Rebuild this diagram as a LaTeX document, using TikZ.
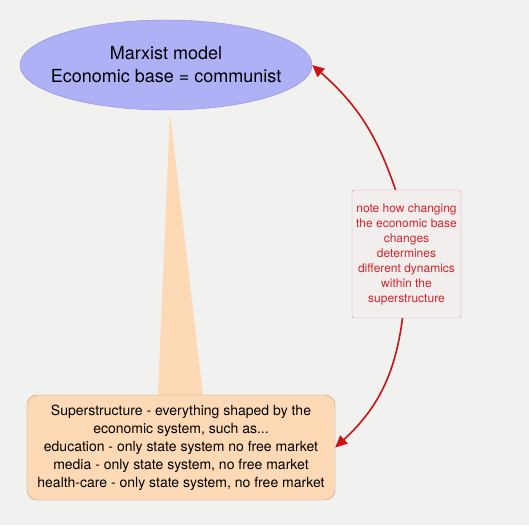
\documentclass[tikz,border=0pt]{standalone}
\usepackage{fontspec}
\setmainfont{TeX Gyre Heros}
\usetikzlibrary{arrows.meta,shapes.geometric,backgrounds}

\definecolor{paper}{HTML}{F1F1F0}
\definecolor{basefill}{HTML}{AFB1F7}
\definecolor{basedraw}{HTML}{8C8ED2}
\definecolor{peach}{HTML}{FDD9B6}
\definecolor{peachdraw}{HTML}{B39C8A}
\definecolor{notefill}{HTML}{F2EEEE}
\definecolor{notedraw}{HTML}{DA9A9A}
\definecolor{notered}{HTML}{D0262A}
\definecolor{arrowred}{HTML}{CC1414}

\begin{document}
\begin{tikzpicture}[
  x=1pt, y=-1pt,
  base/.style      = {ellipse, draw=basedraw, fill=basefill, thin,
                      minimum width=292pt, minimum height=90pt,
                      inner xsep=-80pt, inner ysep=0pt,
                      font=\fontsize{18}{23}\selectfont, align=center},
                       % negative xsep: the ellipse keeps its own size, not the text's
  superbox/.style  = {draw=peachdraw, fill=peach, thin, rounded corners=10pt,
                      minimum width=308pt, minimum height=105pt, inner sep=3pt,
                      font=\fontsize{14}{18}\selectfont, align=center},
  note/.style      = {draw=notedraw, fill=notefill, thin, rounded corners=2pt,
                      minimum width=109pt, minimum height=128pt, inner sep=3pt,
                      text=notered,
                      font=\fontsize{12}{15}\selectfont, align=center},
                       % the comment box sits on the arc between the two
  wedge/.style     = {fill=peach},
                       % the superstructure rises out of the base as a thin spike
  link/.style      = {draw=arrowred, line width=1.6pt,
                      -{Triangle[length=12pt,width=11pt]}},
]
  \useasboundingbox (0,0) rectangle (529,525);

  \node[base] (mm) at (166,65) {Marxist model\\Economic base = communist};
  \node[superbox] (sup) at (181,447.5) {Superstructure - everything shaped by the\\economic system, such as...\\education - only state system no free market\\media - only state system, no free market\\health-care - only state system, no free market};
  \node[note] (nt) at (406.5,254) {note how changing\\the economic base\\changes\\determines\\different dynamics\\within the\\superstructure};

  \begin{scope}[on background layer]
    \fill[paper] (0,0) rectangle (529,525);
    \fill[wedge] ([xshift=4pt,yshift=-3pt]mm.south) -- ([xshift=-23pt]sup.north) -- ([xshift=22pt]sup.north) -- cycle;
  \end{scope}

  % the red arc: out of the note, up to the base and down to the superstructure
  \draw[link] ([xshift=-11pt]nt.north) to[bend right=15] (mm.east);
  \draw[link] ([xshift=-4pt]nt.south) to[bend left=20] (sup.east);
\end{tikzpicture}
\end{document}
